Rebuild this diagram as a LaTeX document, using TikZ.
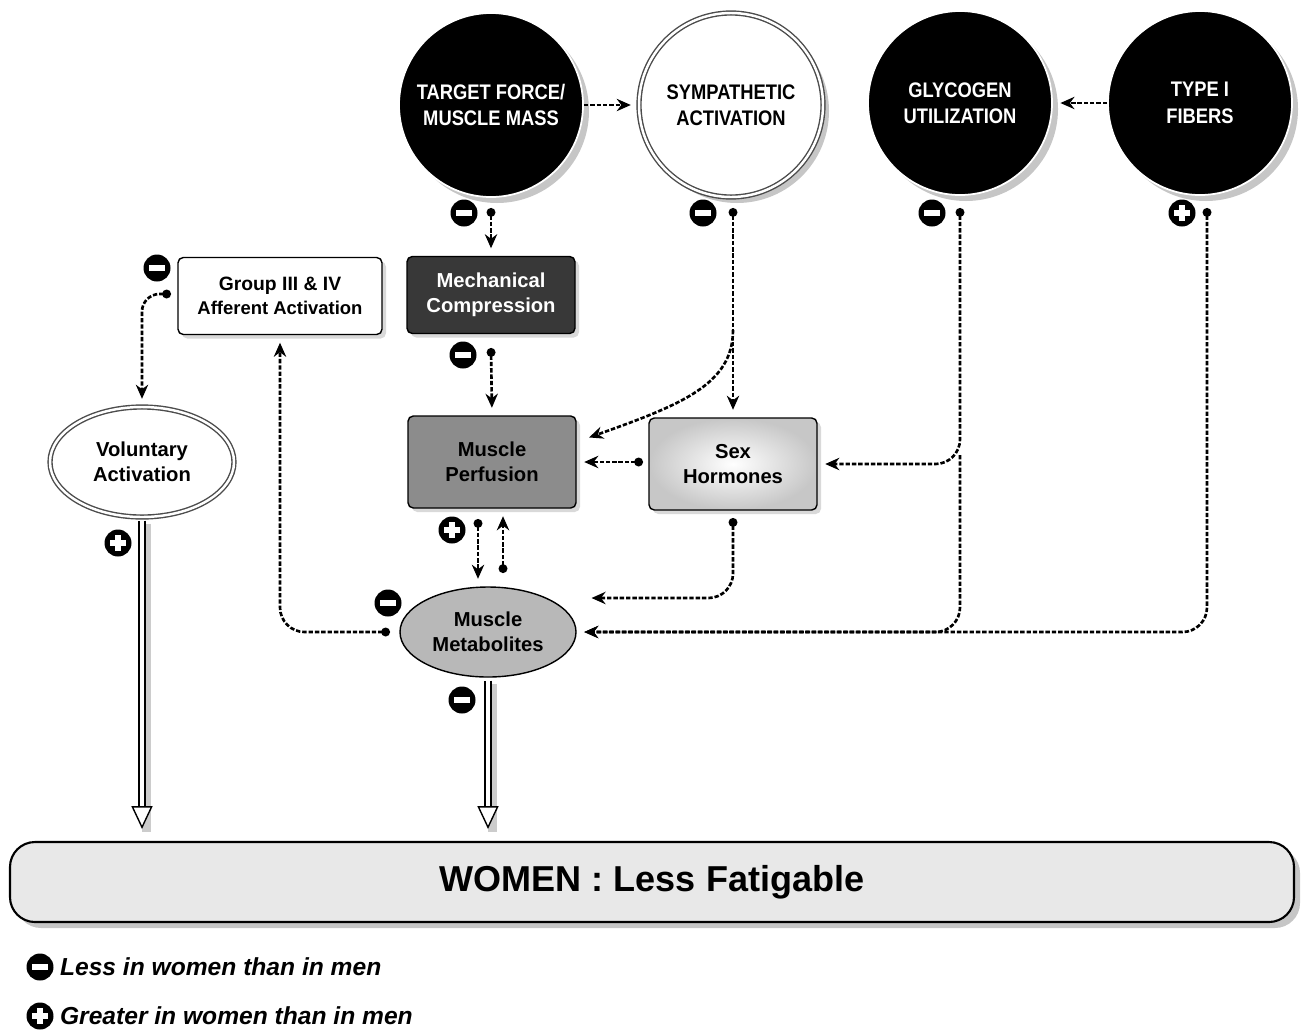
\documentclass[tikz,border=0pt]{standalone}
\usepackage{fontspec}
\setmainfont{Liberation Sans}
\newfontfamily\condfont[FakeStretch=0.87]{Liberation Sans}
\usetikzlibrary{arrows.meta,shapes.geometric,shadows}
\newcommand{\minussign}{\rule{3.1mm}{1.1mm}}
\newcommand{\plussign}{\makebox[3.1mm]{\rule[-1mm]{1.1mm}{3.1mm}}\llap{\rule{3.1mm}{1.1mm}}}
\begin{document}
\begin{tikzpicture}[x=0.2mm,y=-0.2mm]
\tikzstyle{factor}=[circle, minimum size=36.8mm, inner sep=0pt, fill=black, draw=white, line width=1pt, text=white, align=center, font=\condfont\bfseries\fontsize{12}{15}\selectfont, drop shadow={shadow xshift=1.2mm, shadow yshift=-1.2mm, opacity=0.45}]
\tikzstyle{box}=[rectangle, rounded corners=3pt, minimum width=33.6mm, minimum height=15.4mm, draw=black, line width=0.8pt, align=center, font=\bfseries\fontsize{11.5}{14}\selectfont, drop shadow={shadow xshift=0.8mm, shadow yshift=-0.8mm, opacity=0.3}]
\tikzstyle{sign}=[circle, fill=black, text=white, minimum size=5.4mm, inner sep=0pt]
\tikzstyle{link}=[line width=1.5pt, dash pattern=on 2.5pt off 1.1pt, -{Stealth[length=8pt,width=7pt]}, shorten >=1.5mm]
\tikzstyle{dotlink}=[link, {Circle[length=5pt]}-{Stealth[length=8pt,width=7pt]}]
\tikzstyle{bigarrow}=[draw=black, line width=0.8pt, double=white, double distance=2.6pt, -{Triangle[open, fill=white, length=13pt, width=12pt]}, shorten <=0.6mm, shorten >=2.4mm, preaction={draw=black, opacity=0.2, line width=5pt, -, transform canvas={xshift=0.9mm, yshift=-0.6mm}}]

\useasboundingbox (0,0) rectangle (1314,1033);

% Factors on top
\node[factor] (tf) at (491,105) {TARGET FORCE/\\MUSCLE MASS};
\node[factor, fill=white, text=black, draw=gray!60!black, line width=0.8pt, double=white, double distance=1.4pt] (sa) at (731,105) {SYMPATHETIC\\ACTIVATION};
\node[factor] (gu) at (960,103) {GLYCOGEN\\UTILIZATION};
\node[factor] (t1) at (1200,103) {TYPE I\\FIBERS};

% Middle boxes
\node[box, minimum width=40.8mm, fill=white, font=\bfseries\fontsize{11}{14}\selectfont] (gb) at (280,296) {Group III \& IV\\{\fontsize{10.5}{13}\selectfont Afferent Activation}};
\node[box, fill=black!78, text=white] (mc) at (491,295) {Mechanical\\Compression};
\node[box, minimum height=18.4mm, fill=black!45] (mp) at (492,462) {Muscle\\Perfusion};
\node[box, minimum height=18.4mm, inner color=white, outer color=black!22] (sh) at (733,464) {Sex\\Hormones};
\node[ellipse, minimum width=35.2mm, minimum height=18mm, inner sep=0pt, fill=black!28, draw=black, line width=0.8pt, align=center, font=\bfseries\fontsize{11.5}{14}\selectfont] (mm) at (488,632) {Muscle\\Metabolites};
\node[ellipse, minimum width=36.8mm, minimum height=22mm, inner sep=0pt, fill=white, draw=gray!60!black, line width=0.8pt, double=white, double distance=1.4pt, align=center, font=\bfseries\fontsize{11.5}{14}\selectfont] (va) at (142,462) {Voluntary\\Activation};

% Outcome
\node[rectangle, rounded corners=5mm, minimum width=256.8mm, minimum height=16mm, draw=black, line width=1.2pt, fill=black!9, font=\bfseries\fontsize{20.5}{24}\selectfont, drop shadow={shadow xshift=1.2mm, shadow yshift=-1.2mm, opacity=0.45}] (wf) at (652,882) {WOMEN : Less Fatigable};

% Signs
\node[sign] (s1) at (464,213) {\minussign};
\node[sign] (s2) at (703,213) {\minussign};
\node[sign] (s3) at (932,213) {\minussign};
\node[sign] (s4) at (1182,213) {\plussign};
\node[sign] (s5) at (157,268) {\minussign};
\node[sign] (s6) at (463,355) {\minussign};
\node[sign] (s7) at (452,530) {\plussign};
\node[sign] (s8) at (388,603) {\minussign};
\node[sign] (s9) at (118,543) {\plussign};
\node[sign] (s10) at (462,700) {\minussign};

% Legend
\node[sign] (ls1) at (40,967) {\minussign};
\node[anchor=west, font=\bfseries\itshape\fontsize{14}{16}\selectfont] (lt1) at (ls1.east) {Less in women than in men};
\node[sign] (ls2) at (40,1016) {\plussign};
\node[anchor=west, font=\bfseries\itshape\fontsize{14}{16}\selectfont] (lt2) at (ls2.east) {Greater in women than in men};

% Dots and joints
\coordinate (d1) at (491,208);
\coordinate (d2) at (733,208);
\coordinate (d3) at (960,208);
\coordinate (d4) at (1207,208);
\coordinate (d5) at (171,294);
\coordinate (d6) at (491,348);
\coordinate (d7) at (390,632);
\coordinate (d8) at (643,462);
\coordinate (d9) at (733,518);
\coordinate (d10) at (478,519);
\coordinate (d11) at (503,573);
\coordinate (b2) at (733,330);
\coordinate (e2) at (582,440);
\coordinate (j3) at (960,455);
\coordinate (e9) at (584,598);

% Connect nodes
\draw[link] (tf) -- (sa);
\draw[link] (t1) -- (gu);

\draw[dotlink] (d1) -- (mc.north);
\draw[dotlink] (d2) -- (sh.north);
\draw[link] (b2) .. controls (733,385) and (680,405) .. (e2);
\draw[dotlink, rounded corners=14pt] (d3) |- (sh.east);
\draw[link, rounded corners=14pt] (j3) |- (mm.east);
\draw[dotlink, rounded corners=14pt] (d4) |- (mm.east);

\draw[dotlink, rounded corners=10pt] (d5) -| (va.north);
\draw[dotlink, rounded corners=14pt] (d7) -| (gb.south);
\draw[dotlink] (d6) -- (mp.north);
\draw[dotlink] (d8) -- (mp.east);
\draw[dotlink, rounded corners=14pt] (d9) |- (e9);
\draw[dotlink] (d10) -- (d10 |- mm.north);
\draw[dotlink] (d11) -- (d11 |- mp.south);

\draw[bigarrow] (va.south) -- (va.south |- wf.north);
\draw[bigarrow] (mm.south) -- (mm.south |- wf.north);
\end{tikzpicture}
\end{document}
